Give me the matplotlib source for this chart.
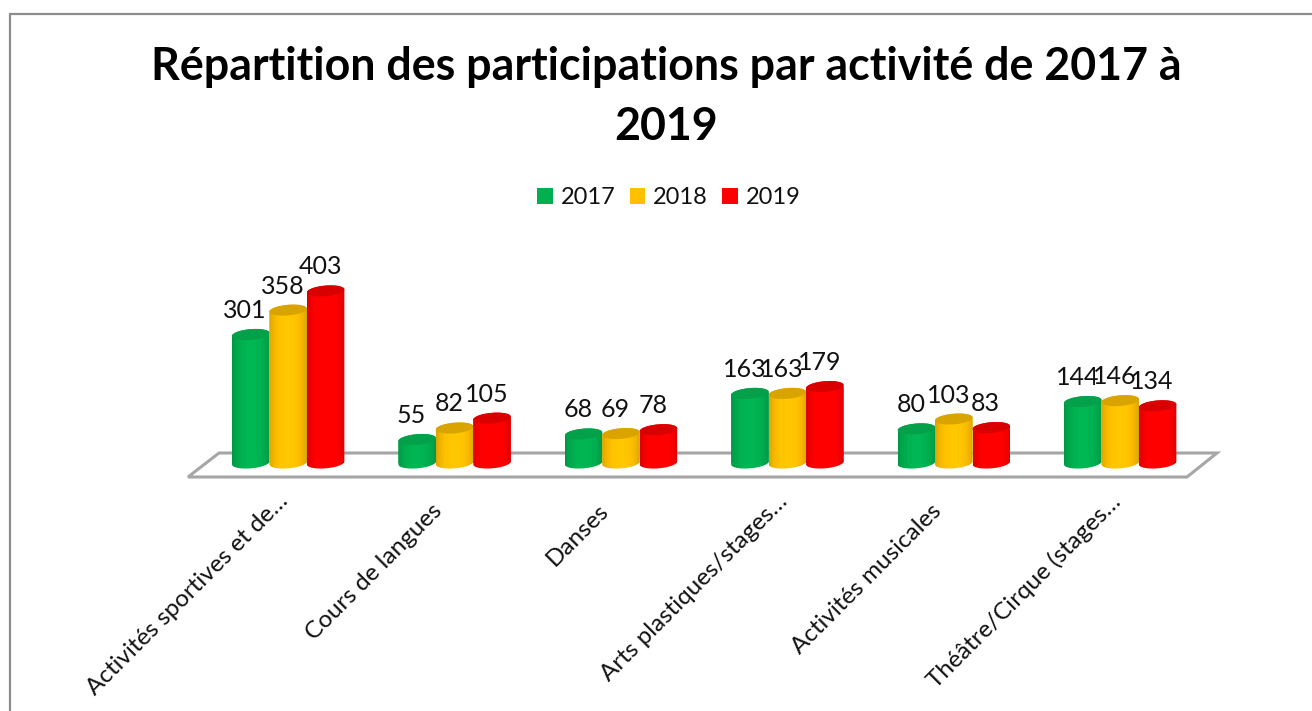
import numpy as np
import matplotlib
matplotlib.use('Agg')
import matplotlib.pyplot as plt
from matplotlib.colors import to_rgb
from matplotlib.patches import Polygon, Rectangle
from matplotlib.transforms import ScaledTranslation

plt.rcParams['font.family'] = ['Lato', 'DejaVu Sans']

activities = ['Activités sportives et de…', 'Cours de langues', 'Danses',
              'Arts plastiques/stages…', 'Activités musicales', 'Théâtre/Cirque (stages…']
years = ['2017', '2018', '2019']
values_2017 = [301, 55, 68, 163, 80, 144]
values_2018 = [358, 82, 69, 163, 103, 146]
values_2019 = [403, 105, 78, 179, 83, 134]
series = [values_2017, values_2018, values_2019]
colors = ['#00b050', '#ffc000', '#ff0000']
top_colors = ['#05a04a', '#d9a400', '#d80000']

W, H = 1312, 711
px_per_unit = 0.427
fig = plt.figure(figsize=(W / 100, H / 100), dpi=100)
# axes run from 17px below the zero level (y=463px) up to y=250px, one category = 166.4px
ax = fig.add_axes([205 / W, 1 - 480 / H, 998.4 / W, 230 / H])
xlim = (-0.5, 5.5)
ylim = (-17 / px_per_unit, 213 / px_per_unit)
for s in ax.spines.values():
    s.set_visible(False)
ax.yaxis.set_visible(False)
ax.patch.set_alpha(0)

bar_w = 0.225
ell_h = 25  # ellipse height in value units
tilt = 7    # rise of the ellipse from left to right, in value units
theta = np.linspace(0, 2 * np.pi, 60)


def ellipse_pts(x, y, t):
    return np.column_stack([x + bar_w / 2 * np.cos(t),
                            y + ell_h / 2 * np.sin(t) + tilt / 2 * np.cos(t)])


def shade(rgb):
    # horizontal shading of a cylinder: darker edges, full colour in the middle
    t = np.linspace(0, 1, 64)
    f = 0.84 + 0.2 * np.sin(np.pi * t) ** 0.6
    return np.clip(np.outer(f, rgb), 0, 1).reshape(1, 64, 3)


handles = []
for i, (vals, col, top) in enumerate(zip(series, colors, top_colors)):
    xs = np.arange(len(vals)) + (i - 1) * bar_w
    bars = ax.bar(xs, vals, bar_w, color=col, zorder=3 + i, label=years[i], linewidth=0)
    handles.append(bars)
    for x, v, rect in zip(xs, vals, bars):
        # side of the cylinder: lower half of bottom ellipse + upper edge at the value
        side = np.vstack([ellipse_pts(x, 0, np.linspace(np.pi, 2 * np.pi, 30)),
                          ellipse_pts(x, v, np.linspace(0, np.pi, 30))])
        clip = Polygon(side, transform=ax.transData)
        rect.set_clip_path(clip)
        im = ax.imshow(shade(to_rgb(col)), aspect='auto', zorder=3.1 + i,
                       extent=(x - bar_w / 2, x + bar_w / 2, -ell_h, v + ell_h))
        im.set_clip_path(clip)
        ax.add_patch(Polygon(ellipse_pts(x, v, theta), color=top, lw=0, zorder=3.2 + i))
        ax.annotate(str(v), (x, v), xytext=(-4, 9), textcoords='offset points',
                    ha='center', va='bottom', fontsize=18, color='#111111', zorder=10)

ax.set_xlim(*xlim)
ax.set_ylim(*ylim)
ax.set_xticks(range(len(activities)))
ax.set_xticklabels(activities, rotation=45, ha='right', rotation_mode='anchor',
                   fontsize=17.5, color='#111111')
ax.tick_params(axis='x', length=0, pad=11)
# the cut labels sit further up the slant than the whole ones
for lab in ax.get_xticklabels():
    if lab.get_text().endswith('…'):
        dx, dy = -11, 5
    else:
        dx, dy = -23, -5
    lab.set_transform(lab.get_transform() + ScaledTranslation(dx / 100, dy / 100, fig.dpi_scale_trans))

# floor of the 3d plot
to_fig = fig.transFigure
fig.add_artist(Polygon([(188 / W, 1 - 477 / H), (1187 / W, 1 - 477 / H),
                        (1217 / W, 1 - 453 / H), (219 / W, 1 - 453 / H)],
                       closed=True, fill=False, edgecolor='#a6a6a6', lw=2.2,
                       transform=to_fig, zorder=-1))

fig.add_artist(Rectangle((10 / W, -0.1), 1.2, 1.1 - 14 / H, fill=False, edgecolor='#8c8c8c',
                         lw=1.6, transform=to_fig, zorder=-2))

fig.text(666 / W, 1 - 67 / H, 'Répartition des participations par activité de 2017 à',
         ha='center', va='center', fontsize=32.2, fontweight='bold', color='#000000')
fig.text(666 / W, 1 - 127 / H, '2019', ha='center', va='center', fontsize=32.2,
         fontweight='bold', color='#000000')

fig.legend(handles=handles, labels=years, loc='center', bbox_to_anchor=(669 / W, 1 - 198 / H),
           ncol=3, frameon=False, fontsize=17, handlelength=0.65, handleheight=0.65,
           handletextpad=0.35, columnspacing=0.6, labelcolor='#111111')

fig.savefig('out.png', dpi=100)
